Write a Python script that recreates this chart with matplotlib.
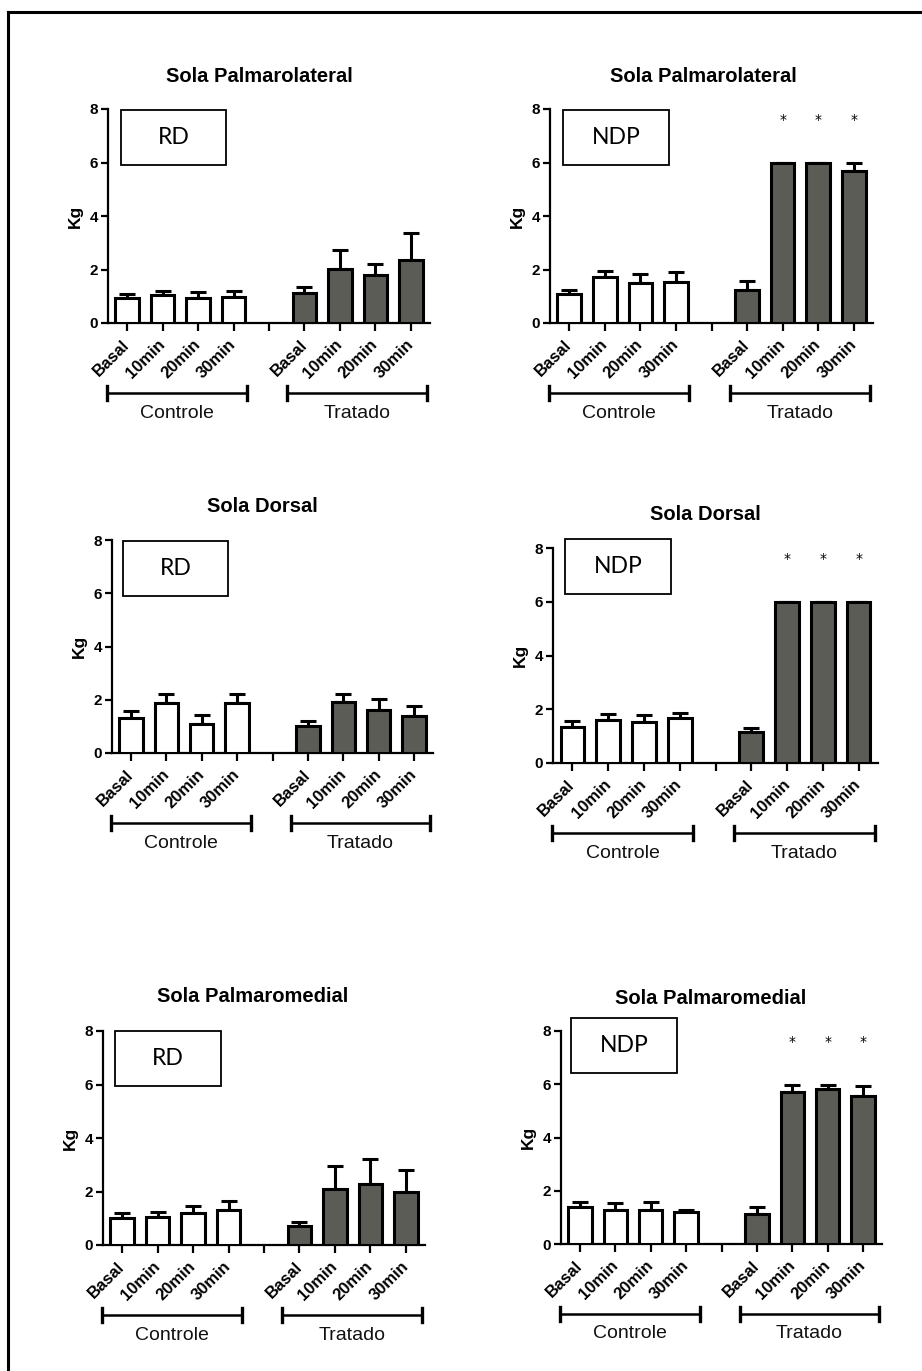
import matplotlib
matplotlib.use("Agg")
import matplotlib.pyplot as plt
from matplotlib.patches import Rectangle
from matplotlib.lines import Line2D
import matplotlib.transforms as mtransforms

W, H = 922, 1371

categories = ['Basal', '10min', '20min', '30min']
groups = ['Controle', 'Tratado']
titles = ['Sola Palmarolateral', 'Sola Palmarolateral',
          'Sola Dorsal', 'Sola Dorsal',
          'Sola Palmaromedial', 'Sola Palmaromedial']
box_labels = ['RD', 'NDP', 'RD', 'NDP', 'RD', 'NDP']
yticks = [0, 2, 4, 6, 8]

# means and upper SEM for each panel: (control, treated)
pl_rd_ctrl = [0.93, 1.03, 0.93, 0.99]
pl_rd_ctrl_err = [0.15, 0.17, 0.23, 0.21]
pl_rd_trat = [1.12, 2.03, 1.80, 2.35]
pl_rd_trat_err = [0.24, 0.69, 0.42, 1.02]

pl_ndp_ctrl = [1.07, 1.71, 1.49, 1.53]
pl_ndp_ctrl_err = [0.16, 0.24, 0.36, 0.36]
pl_ndp_trat = [1.22, 6.00, 6.00, 5.70]
pl_ndp_trat_err = [0.34, 0.0, 0.0, 0.30]

do_rd_ctrl = [1.31, 1.88, 1.10, 1.89]
do_rd_ctrl_err = [0.27, 0.32, 0.31, 0.33]
do_rd_trat = [1.03, 1.91, 1.63, 1.39]
do_rd_trat_err = [0.16, 0.31, 0.41, 0.36]

do_ndp_ctrl = [1.33, 1.60, 1.51, 1.67]
do_ndp_ctrl_err = [0.22, 0.23, 0.27, 0.19]
do_ndp_trat = [1.14, 6.00, 6.00, 6.00]
do_ndp_trat_err = [0.16, 0.0, 0.0, 0.0]

pm_rd_ctrl = [1.01, 1.06, 1.19, 1.31]
pm_rd_ctrl_err = [0.18, 0.17, 0.27, 0.35]
pm_rd_trat = [0.70, 2.10, 2.29, 1.98]
pm_rd_trat_err = [0.17, 0.86, 0.92, 0.81]

pm_ndp_ctrl = [1.39, 1.27, 1.29, 1.21]
pm_ndp_ctrl_err = [0.20, 0.27, 0.29, 0.06]
pm_ndp_trat = [1.11, 5.72, 5.81, 5.56]
pm_ndp_trat_err = [0.27, 0.27, 0.18, 0.36]

star_level = 7.6
star_panels = [False, True, False, True, False, True]

panels = [
    (pl_rd_ctrl, pl_rd_ctrl_err, pl_rd_trat, pl_rd_trat_err),
    (pl_ndp_ctrl, pl_ndp_ctrl_err, pl_ndp_trat, pl_ndp_trat_err),
    (do_rd_ctrl, do_rd_ctrl_err, do_rd_trat, do_rd_trat_err),
    (do_ndp_ctrl, do_ndp_ctrl_err, do_ndp_trat, do_ndp_trat_err),
    (pm_rd_ctrl, pm_rd_ctrl_err, pm_rd_trat, pm_rd_trat_err),
    (pm_ndp_ctrl, pm_ndp_ctrl_err, pm_ndp_trat, pm_ndp_trat_err),
]

# layout in pixels: axes (left, right, top, bottom), title center, box (x0,x1,y0,y1)
axes_px = [(108, 430, 109, 323), (550, 873, 109, 323),
           (112, 433, 540, 753), (553, 878, 548, 763),
           (103, 425, 1031, 1245), (561, 882, 1031, 1244)]
title_px = [(259, 77), (703, 76), (262, 507), (705, 515), (253, 997), (711, 998)]
box_px = [(121, 226, 110, 165), (563, 669, 110, 165),
          (123, 228, 541, 596), (565, 671, 539, 594),
          (115, 221, 1031, 1086), (571, 677, 1018, 1073)]

FILL = '#5c5c57'
BOLD = 'Liberation Sans'

fig = plt.figure(figsize=(W / 100, H / 100), dpi=100)
fig.patch.set_facecolor('white')


def fx(x):
    return x / W


def fy(y):
    return 1 - y / H


# outer frame (left and top edges)
fig.add_artist(Line2D([fx(8), fx(8)], [fy(12), 0], color='black', lw=2.2,
                      transform=fig.transFigure))
fig.add_artist(Line2D([fx(8), 1], [fy(12), fy(12)], color='black', lw=2.2,
                      transform=fig.transFigure))

n = len(categories)
pos_ctrl = list(range(n))
pos_trat = [n + 1 + i for i in range(n)]
shift = mtransforms.ScaledTranslation(4 / 100, 0, fig.dpi_scale_trans)

for i, (ctrl, ctrl_err, trat, trat_err) in enumerate(panels):
    l, r, t, b = axes_px[i]
    ax = fig.add_axes([fx(l), fy(b), (r - l) / W, (b - t) / H])
    ax.bar(pos_ctrl, ctrl, width=0.66, color='white', edgecolor='black',
           linewidth=2.2, zorder=3)
    ax.bar(pos_trat, trat, width=0.66, color=FILL, edgecolor='black',
           linewidth=2.2, zorder=3)
    ax.errorbar(pos_ctrl, ctrl, yerr=[[0] * n, ctrl_err], fmt='none',
                ecolor='black', elinewidth=2.2, capsize=5.5, capthick=2.2, zorder=2)
    ax.errorbar(pos_trat, trat, yerr=[[0] * n, trat_err], fmt='none',
                ecolor='black', elinewidth=2.2, capsize=5.5, capthick=2.2, zorder=2)
    if star_panels[i]:
        for p in pos_trat[1:]:
            ax.text(p, star_level, '*', ha='center', va='center', fontsize=10,
                    family='DejaVu Sans')
    ax.set_ylim(0, 8)
    ax.set_xlim(-0.54, 2 * n + 0.54)
    ax.set_yticks(yticks)
    ax.set_yticklabels([str(v) for v in yticks], fontweight='bold',
                       family=BOLD, fontsize=11)
    ax.set_xticks(pos_ctrl + [n] + pos_trat)
    ax.set_xticklabels(categories + [''] + categories, rotation=45, ha='right',
                       va='center', rotation_mode='anchor', fontweight='bold',
                       family=BOLD, fontsize=12)
    for lab in ax.get_xticklabels():
        lab.set_transform(lab.get_transform() + shift)
    ax.tick_params(axis='x', length=6, width=1.6, pad=8)
    ax.tick_params(axis='y', length=5, width=1.6, pad=2)
    for s in ['top', 'right']:
        ax.spines[s].set_visible(False)
    for s in ['left', 'bottom']:
        ax.spines[s].set_linewidth(1.6)
    ax.set_ylabel('Kg', fontweight='bold', family=BOLD, fontsize=12.5, labelpad=5)

    # group brackets
    trans = mtransforms.blended_transform_factory(ax.transData, ax.transAxes)
    hgt = b - t
    yb = -70 / hgt
    ylab = -90 / hgt
    cap = 7 / hgt
    for (x0, x1), g in zip([(-0.58, 3.38), (4.52, 8.45)], groups):
        ax.add_artist(Line2D([x0, x1], [yb, yb], color='black', lw=1.8,
                             transform=trans, clip_on=False))
        for xx in (x0, x1):
            ax.add_artist(Line2D([xx, xx], [yb - cap, yb + cap], color='black',
                                 lw=2.4, transform=trans, clip_on=False))
        ax.text((x0 + x1) / 2, ylab, g, transform=trans, ha='center', va='center',
                fontsize=14, family='Liberation Sans', color='#111111')

    # title
    tx, ty = title_px[i]
    fig.text(fx(tx), fy(ty), titles[i], ha='center', va='center', fontsize=14.5,
             fontweight='bold', family=BOLD)

    # label box
    x0, x1, y0, y1 = box_px[i]
    fig.add_artist(Rectangle((fx(x0), fy(y1)), (x1 - x0) / W, (y1 - y0) / H,
                             transform=fig.transFigure, facecolor='white',
                             edgecolor='black', lw=1.3))
    fig.text(fx((x0 + x1) / 2), fy((y0 + y1) / 2), box_labels[i], ha='center',
             va='center', fontsize=16.5, family='Lato')

fig.savefig('out.png', dpi=100)
